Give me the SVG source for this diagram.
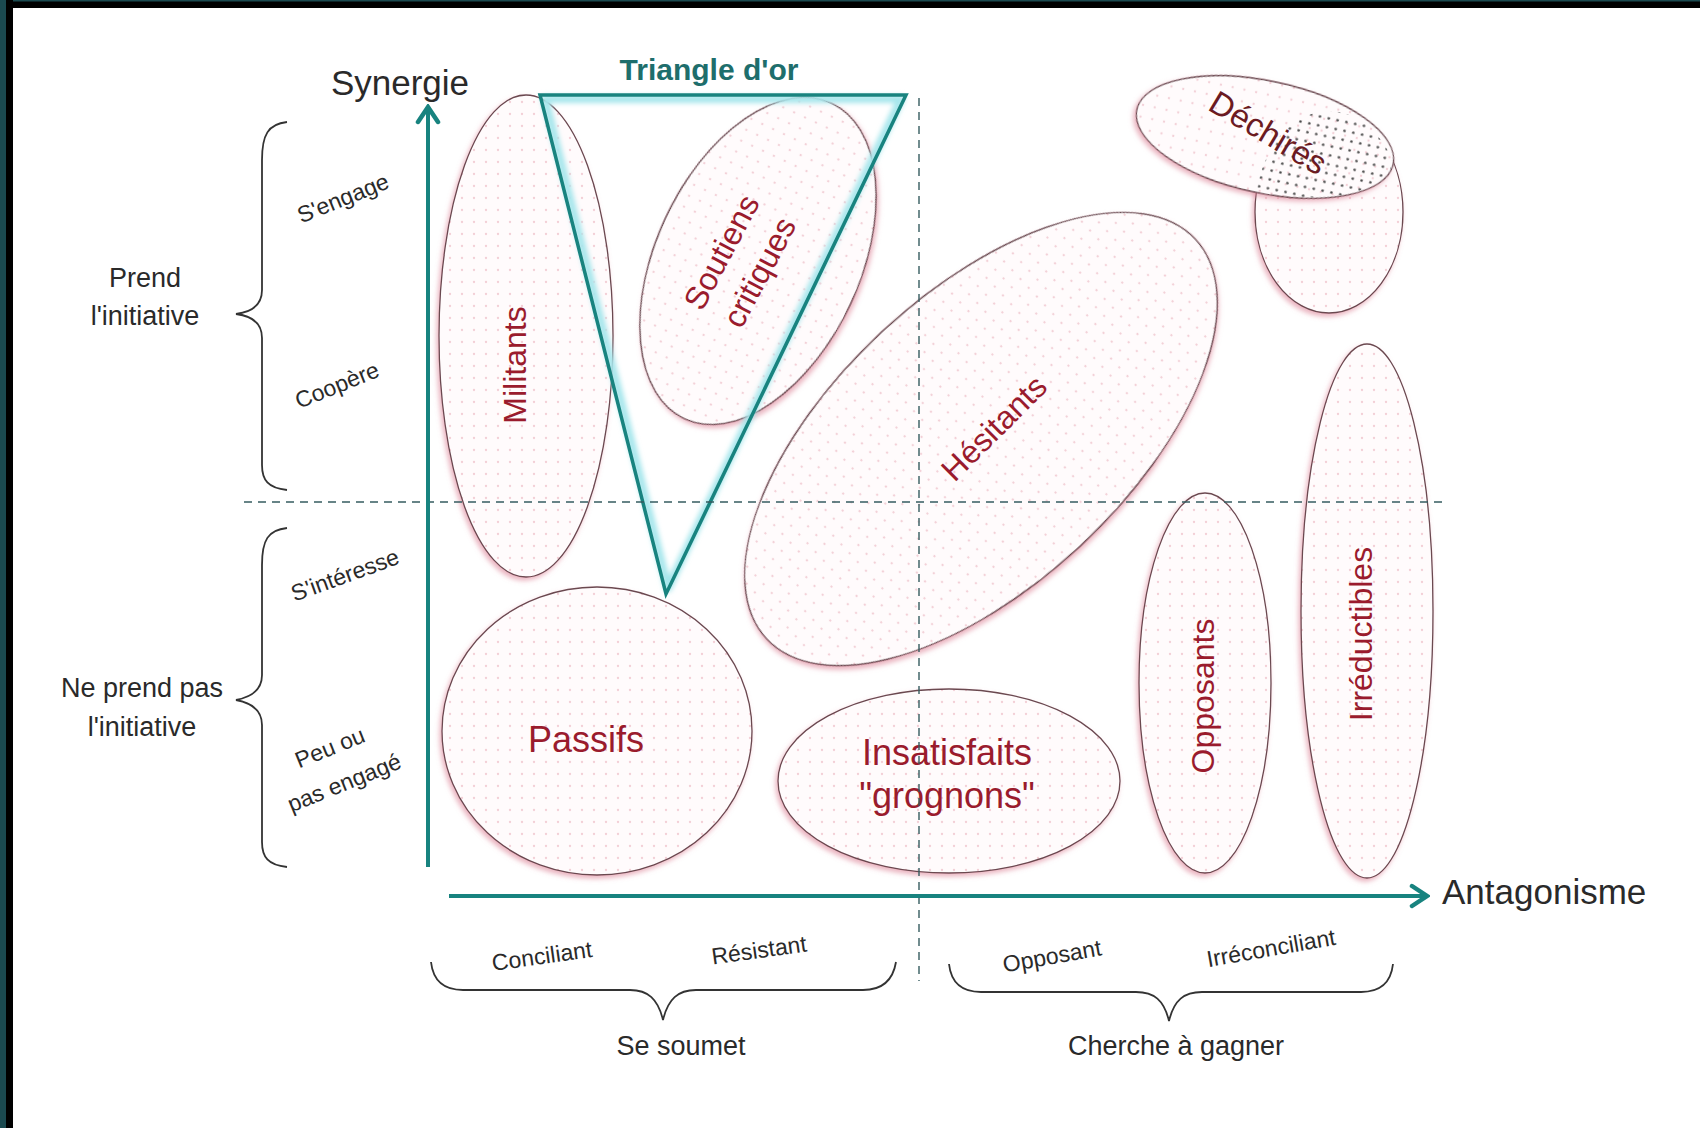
<svg xmlns="http://www.w3.org/2000/svg" width="1700" height="1128" viewBox="0 0 1700 1128">
  <style>
    .ink { font-family: "Liberation Sans", Arial, sans-serif; fill: #2a2a2a; }
    .big { font-size: 35px; }
    .mid { font-size: 27px; }
    .small { font-size: 23px; }
    .lbl { font-family: "Liberation Sans", Arial, sans-serif; fill: #9a1b2d; }
    .lbl36 { font-size: 36px; }
    .lbl32 { font-size: 32px; }
    .blob { fill: url(#dots); stroke: #6a4850; stroke-width: 1.3; filter: url(#halo); }
    .axis { stroke: #18837f; stroke-width: 4; fill: none; }
    .guide { stroke: #365c60; stroke-width: 1.4; stroke-dasharray: 8 6; fill: none; }
    .brace { stroke: #333; stroke-width: 1.8; fill: none; }
  </style>
  <defs>
    <pattern id="dots" width="12" height="12" patternUnits="userSpaceOnUse">
      <rect width="12" height="12" fill="#fffbfc"/>
      <circle cx="6" cy="6" r="1.15" fill="#f3cfd6"/>
    </pattern>
    <pattern id="darkdots" width="9" height="9" patternUnits="userSpaceOnUse">
      <circle cx="4.5" cy="4.5" r="1.3" fill="#4a4a4a"/>
    </pattern>
    <filter id="halo" x="-15%" y="-15%" width="130%" height="130%">
      <feDropShadow dx="-2" dy="3" stdDeviation="2.5" flood-color="#d9748a" flood-opacity="0.55"/>
    </filter>
    <filter id="soft" x="-10%" y="-10%" width="120%" height="120%">
      <feGaussianBlur stdDeviation="2.5"/>
    </filter>
    <clipPath id="clipBack">
      <ellipse cx="1329" cy="212" rx="74" ry="101"/>
    </clipPath>
    <marker id="chev" viewBox="0 0 22 26" refX="19" refY="13" markerWidth="22" markerHeight="26" orient="auto" markerUnits="userSpaceOnUse">
      <path d="M4,3 L19,13 L4,23" fill="none" stroke="#18837f" stroke-width="4.5" stroke-linecap="round"/>
    </marker>
  </defs>

  <!-- page background and frame -->
  <rect width="1700" height="1128" fill="#ffffff"/>
  <rect x="0" y="0" width="1700" height="8" fill="#000"/>
  <rect x="0" y="0" width="1700" height="1.5" fill="#1b4a50"/>
  <rect x="0" y="0" width="13" height="1128" fill="#000"/>
  <rect x="0" y="0" width="6" height="1128" fill="#1b4a50"/>

  <!-- groups -->
  <g id="node-militants">
    <ellipse class="blob" cx="526" cy="336" rx="87" ry="241"/>
    <text class="lbl lbl32" text-anchor="middle" transform="translate(515,365) rotate(-90)" y="11">Militants</text>
  </g>

  <g id="node-soutiens">
    <ellipse class="blob" cx="0" cy="0" rx="174" ry="102" transform="translate(758,261) rotate(-65)"/>
    <g transform="translate(740,262) rotate(-62)">
      <text class="lbl lbl32" text-anchor="middle" y="-10">Soutiens</text>
      <text class="lbl lbl32" text-anchor="middle" y="33">critiques</text>
    </g>
  </g>

  <g id="node-hesitants">
    <ellipse class="blob" cx="0" cy="0" rx="293" ry="146" transform="translate(981,439) rotate(-43)"/>
    <text class="lbl lbl32" text-anchor="middle" transform="translate(994,428) rotate(-45)" y="11">Hésitants</text>
  </g>

  <g id="node-dechires">
    <ellipse class="blob" cx="1329" cy="212" rx="74" ry="101"/>
    <ellipse class="blob" cx="0" cy="0" rx="131" ry="56" transform="translate(1265,137) rotate(12)"/>
    <g clip-path="url(#clipBack)">
      <ellipse cx="0" cy="0" rx="130" ry="55" transform="translate(1265,137) rotate(12)" fill="url(#darkdots)"/>
    </g>
    <text class="lbl" font-size="33" style="fill:#6b1a22" text-anchor="middle" transform="translate(1268,133) rotate(31)" y="11">Déchirés</text>
  </g>

  <g id="node-passifs">
    <ellipse class="blob" cx="597" cy="731" rx="155" ry="144"/>
    <text class="lbl lbl36" text-anchor="middle" x="586" y="752">Passifs</text>
  </g>

  <g id="node-insatisfaits">
    <ellipse class="blob" cx="949" cy="781" rx="171" ry="92"/>
    <text class="lbl lbl36" text-anchor="middle" x="947" y="765">Insatisfaits</text>
    <text class="lbl lbl36" text-anchor="middle" x="947" y="808">"grognons"</text>
  </g>

  <g id="node-opposants">
    <ellipse class="blob" cx="1205" cy="683" rx="66" ry="190"/>
    <text class="lbl lbl32" text-anchor="middle" transform="translate(1203,696) rotate(-90)" y="11">Opposants</text>
  </g>

  <g id="node-irreductibles">
    <ellipse class="blob" cx="1367" cy="611" rx="66" ry="267"/>
    <text class="lbl lbl32" text-anchor="middle" transform="translate(1361,634) rotate(-90)" y="11">Irréductibles</text>
  </g>

  <!-- golden triangle -->
  <g id="node-triangle">
    <path d="M545,99 L901,99 L668,588 Z" fill="none" stroke="#a6e6ec" stroke-width="8" stroke-linejoin="round" filter="url(#soft)"/>
    <path d="M540,95 L906,95 L666,594 Z" fill="none" stroke="#18837f" stroke-width="3.5" stroke-linejoin="miter"/>
    <text x="709" y="80" text-anchor="middle" font-family="Liberation Sans, Arial, sans-serif" font-weight="bold" font-size="30" fill="#1e6e6c">Triangle d'or</text>
  </g>

  <!-- quadrant guides -->
  <g id="guides">
    <line class="guide" x1="244" y1="502" x2="1447" y2="502"/>
    <line class="guide" x1="919" y1="98" x2="919" y2="981"/>
  </g>

  <!-- axes -->
  <g id="connectors">
    <line class="axis" x1="428" y1="867" x2="428" y2="107" marker-end="url(#chev)"/>
    <line class="axis" x1="449" y1="896" x2="1427" y2="896" marker-end="url(#chev)"/>
  </g>

  <!-- axis titles -->
  <text class="ink big" x="400" y="95" text-anchor="middle">Synergie</text>
  <text class="ink big" x="1442" y="904">Antagonisme</text>

  <!-- left scale -->
  <g id="scale-left">
    <path class="brace" d="M287,122 C268,124 262,135 262,160 L262,290 C262,305 252,312 236,314 C252,316 262,323 262,338 L262,465 C262,480 268,488 287,490"/>
    <path class="brace" d="M287,528 C268,530 262,540 262,565 L262,675 C262,690 252,697 236,700 C252,703 262,710 262,725 L262,842 C262,857 268,865 287,867"/>
    <text class="ink mid" x="145" y="287" text-anchor="middle">Prend</text>
    <text class="ink mid" x="145" y="325" text-anchor="middle">l'initiative</text>
    <text class="ink mid" x="142" y="697" text-anchor="middle">Ne prend pas</text>
    <text class="ink mid" x="142" y="736" text-anchor="middle">l'initiative</text>
    <text class="ink small" text-anchor="middle" transform="translate(343,198) rotate(-22)" y="8">S'engage</text>
    <text class="ink small" text-anchor="middle" transform="translate(337,385) rotate(-22)" y="8">Coopère</text>
    <text class="ink small" text-anchor="middle" transform="translate(345,575) rotate(-20)" y="8">S'intéresse</text>
    <g transform="translate(337,765) rotate(-22)">
      <text class="ink small" text-anchor="middle" y="-11">Peu ou</text>
      <text class="ink small" text-anchor="middle" y="27">pas engagé</text>
    </g>
  </g>

  <!-- bottom scale -->
  <g id="scale-bottom">
    <path class="brace" d="M431,962 C433,980 443,990 463,990 L630,990 C648,990 658,999 663,1020 C668,999 678,990 696,990 L863,990 C883,990 893,980 896,962"/>
    <path class="brace" d="M949,964 C951,982 961,992 981,992 L1136,992 C1154,992 1164,1000 1169,1021 C1174,1000 1184,992 1202,992 L1361,992 C1381,992 1391,982 1393,964"/>
    <text class="ink small" text-anchor="middle" transform="translate(542,956) rotate(-8)" y="8">Conciliant</text>
    <text class="ink small" text-anchor="middle" transform="translate(759,950) rotate(-8)" y="8">Résistant</text>
    <text class="ink small" text-anchor="middle" transform="translate(1052,956) rotate(-10)" y="8">Opposant</text>
    <text class="ink small" text-anchor="middle" transform="translate(1271,948) rotate(-10)" y="8">Irréconciliant</text>
    <text class="ink mid" x="681" y="1055" text-anchor="middle">Se soumet</text>
    <text class="ink mid" x="1176" y="1055" text-anchor="middle">Cherche à gagner</text>
  </g>
</svg>
